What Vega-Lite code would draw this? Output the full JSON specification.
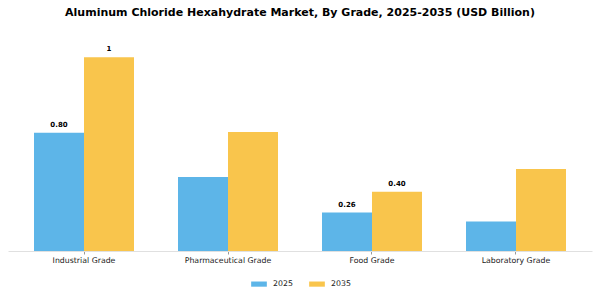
{
  "$schema": "https://vega.github.io/schema/vega-lite/v6.json",
  "autosize": {"type": "none"},
  "width": 584,
  "height": 207,
  "padding": {"left": 8, "top": 44, "right": 8, "bottom": 49},
  "background": "white",
  "title": {
    "text": "Aluminum Chloride Hexahydrate Market, By Grade, 2025-2035 (USD Billion)",
    "font": "DejaVu Sans",
    "fontSize": 11,
    "fontWeight": "bold",
    "color": "#000000",
    "anchor": "middle",
    "offset": 26
  },
  "data": {
    "values": [
      {"grade": "Industrial Grade", "year": "2025", "value": 0.80, "label": "0.80"},
      {"grade": "Industrial Grade", "year": "2035", "value": 1.31, "label": "1"},
      {"grade": "Pharmaceutical Grade", "year": "2025", "value": 0.50, "label": ""},
      {"grade": "Pharmaceutical Grade", "year": "2035", "value": 0.805, "label": ""},
      {"grade": "Food Grade", "year": "2025", "value": 0.26, "label": "0.26"},
      {"grade": "Food Grade", "year": "2035", "value": 0.40, "label": "0.40"},
      {"grade": "Laboratory Grade", "year": "2025", "value": 0.20, "label": ""},
      {"grade": "Laboratory Grade", "year": "2035", "value": 0.555, "label": ""}
    ]
  },
  "encoding": {
    "x": {
      "field": "grade",
      "type": "nominal",
      "sort": null,
      "scale": {"paddingInner": 0.3056, "paddingOuter": 0.1806},
      "axis": {
        "title": null,
        "labelAngle": 0,
        "labelFont": "DejaVu Sans",
        "labelFontSize": 7.8,
        "labelColor": "#222222",
        "labelPadding": 2.5,
        "domainColor": "#e0e0e0",
        "tickColor": "#999999",
        "tickSize": 3,
        "grid": false
      }
    },
    "xOffset": {"field": "year", "type": "nominal", "scale": {"paddingInner": 0, "paddingOuter": 0}},
    "y": {
      "field": "value",
      "type": "quantitative",
      "scale": {"domain": [0, 1.4]},
      "axis": null
    }
  },
  "layer": [
    {
      "mark": {"type": "bar"},
      "encoding": {
        "color": {
          "field": "year",
          "type": "nominal",
          "scale": {"domain": ["2025", "2035"], "range": ["#5db5e8", "#f9c54c"]},
          "legend": {
            "title": null,
            "orient": "none",
            "legendX": 243,
            "legendY": 232,
            "direction": "horizontal",
            "symbolType": "M-1,-0.33H1V0.33H-1Z",
            "symbolSize": 246,
            "symbolStrokeWidth": 0,
            "labelFont": "DejaVu Sans",
            "labelFontSize": 7.8,
            "labelColor": "#222222",
            "labelOffset": 6,
            "columnPadding": 16
          }
        }
      }
    },
    {
      "mark": {"type": "text", "baseline": "middle", "dy": -8, "font": "DejaVu Sans", "fontSize": 7, "fontWeight": "bold", "color": "#000000"},
      "encoding": {
        "text": {"field": "label"}
      }
    }
  ],
  "config": {
    "view": {"stroke": null}
  }
}
